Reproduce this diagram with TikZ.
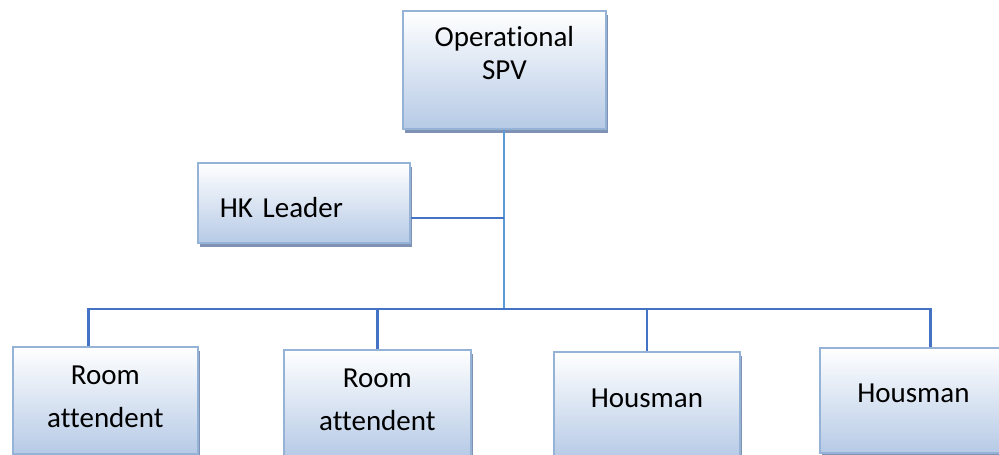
\documentclass[tikz,border=0pt]{standalone}
\usepackage{fontspec}
\setmainfont[Ligatures=NoCommon]{Carlito}
\usetikzlibrary{shadows}
\definecolor{boxline}{RGB}{149,179,215}
\definecolor{boxfill}{RGB}{182,202,230}
\definecolor{busline}{RGB}{68,114,196}
\definecolor{stemline}{RGB}{91,155,213}
\definecolor{boxshade}{RGB}{128,146,180}
\begin{document}
\begin{tikzpicture}
[x=1pt,y=-1pt,
box/.style={rectangle,draw=boxline,line width=1.8pt,top color=white,bottom color=boxfill,
  anchor=north west,inner sep=0pt,align=center,font=\fontsize{29}{33}\selectfont,
  drop shadow={shadow xshift=2.5pt,shadow yshift=-4pt,fill=boxshade,opacity=1}},
bus/.style={draw=busline,line width=2.2pt},
stem/.style={draw=stemline,line width=1.9pt}]
\useasboundingbox (0,0) rectangle (999,455);
\node[box,minimum width=203pt,minimum height=118pt,text depth=34pt] (spv) at (402,10) {Operational\\SPV};
\node[box,minimum width=212pt,minimum height=80pt,text width=168pt,inner xsep=22pt,align=left,text height=29pt] (hk) at (197,162) {HK Leader};
\node[box,minimum width=185pt,minimum height=107pt,text depth=8pt] (r1) at (12,346) {Room\\[10pt]attendent};
\node[box,minimum width=187pt,minimum height=107pt,text depth=8pt] (r2) at (283,349) {Room\\[10pt]attendent};
\node[box,minimum width=186pt,minimum height=107pt,text depth=14pt] (h1) at (553,351) {Housman};
\node[box,minimum width=187pt,minimum height=105pt,text depth=14pt] (h2) at (819,347) {Housman};
\coordinate (j) at (spv.south |- 0,309);
\draw[stem] (spv) -- (j);
\draw[bus] ([yshift=-15pt]hk.east) -- ([yshift=-15pt]hk.east -| j);
\draw[bus] ([xshift=-17pt]r1.north) |- (j) -| ([xshift=17pt]h2.north);
\draw[bus] (r2.north) -- (r2.north |- j);
\draw[bus] (h1.north) -- (h1.north |- j);
\end{tikzpicture}
\end{document}
